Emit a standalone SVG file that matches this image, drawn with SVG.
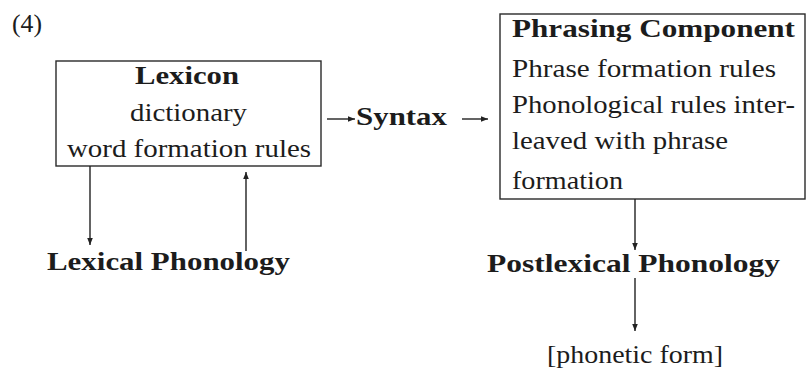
<svg xmlns="http://www.w3.org/2000/svg" width="808" height="369" viewBox="0 0 808 369">
<style>
text{font-family:"Liberation Serif","DejaVu Serif",serif;font-size:25px;fill:#1c1c1c}
.b{font-weight:bold}
.box{fill:none;stroke:#2a2a2a;stroke-width:1.4}
.ln{stroke:#222;stroke-width:1.4;fill:none}
</style>
<defs>
<marker id="ah" viewBox="0 0 10 10" refX="10" refY="5" markerWidth="7" markerHeight="7" markerUnits="userSpaceOnUse" orient="auto">
<path d="M0,1 L10,5 L0,9 z" fill="#222"/>
</marker>
</defs>
<text x="12" y="32" style="font-size:25px" textLength="30" lengthAdjust="spacingAndGlyphs">(4)</text>
<g id="lexicon">
<rect class="box" x="56" y="61" width="265" height="105"/>
<text class="b" x="135" y="84" textLength="104" lengthAdjust="spacingAndGlyphs">Lexicon</text>
<text x="130" y="121" textLength="117" lengthAdjust="spacingAndGlyphs">dictionary</text>
<text x="67" y="157" textLength="244" lengthAdjust="spacingAndGlyphs">word formation rules</text>
</g>
<g id="syntax">
<text class="b" x="356" y="125" textLength="91" lengthAdjust="spacingAndGlyphs">Syntax</text>
</g>
<g id="phrasing">
<rect class="box" x="500" y="14" width="305" height="185"/>
<text class="b" x="512" y="37" textLength="283" lengthAdjust="spacingAndGlyphs">Phrasing Component</text>
<text x="512" y="77" textLength="264" lengthAdjust="spacingAndGlyphs">Phrase formation rules</text>
<text x="512" y="113" textLength="283" lengthAdjust="spacingAndGlyphs">Phonological rules inter-</text>
<text x="512" y="149" textLength="216" lengthAdjust="spacingAndGlyphs">leaved with phrase</text>
<text x="512" y="189" textLength="111" lengthAdjust="spacingAndGlyphs">formation</text>
</g>
<g id="lexical">
<text class="b" x="47" y="270" textLength="243" lengthAdjust="spacingAndGlyphs">Lexical Phonology</text>
</g>
<g id="postlexical">
<text class="b" x="487" y="272" textLength="293" lengthAdjust="spacingAndGlyphs">Postlexical Phonology</text>
</g>
<g id="phonetic">
<text x="547" y="363" textLength="176" lengthAdjust="spacingAndGlyphs">[phonetic form]</text>
</g>
<g id="connectors">
<line class="ln" x1="327" y1="119" x2="355" y2="119" marker-end="url(#ah)"/>
<line class="ln" x1="462" y1="119" x2="488" y2="119" marker-end="url(#ah)"/>
<line class="ln" x1="90" y1="166" x2="90" y2="245" marker-end="url(#ah)"/>
<line class="ln" x1="246" y1="251" x2="246" y2="172" marker-end="url(#ah)"/>
<line class="ln" x1="635" y1="199" x2="635" y2="250" marker-end="url(#ah)"/>
<line class="ln" x1="635" y1="278" x2="635" y2="331" marker-end="url(#ah)"/>
</g>
</svg>
